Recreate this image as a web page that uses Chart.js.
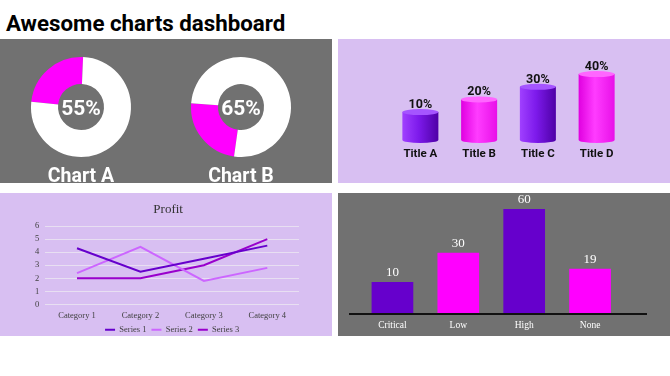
<!DOCTYPE html>
<html><head><meta charset="utf-8">
<script src="https://cdn.jsdelivr.net/npm/chart.js"></script>
<style>
html,body{margin:0;padding:0;background:#fff;width:670px;height:376px;overflow:hidden;}
#title{position:absolute;left:6px;top:10px;font:bold 22.3px Roboto;line-height:26px;color:#000;white-space:nowrap;}
.panel{position:absolute;overflow:hidden;}
.gray{background:#717171;}
.lav{background:#d8bff2;}
canvas{position:absolute;}
</style></head><body>
<div id="title">Awesome charts dashboard</div>
<div class="panel gray" style="left:0;top:39px;width:332px;height:144px">
  <canvas id="dA" width="160" height="144" style="left:1px;top:0"></canvas>
  <canvas id="dB" width="160" height="144" style="left:161px;top:0"></canvas>
</div>
<div class="panel lav" style="left:338px;top:39px;width:332px;height:144px">
  <canvas id="cyl" width="332" height="144" style="left:0;top:0"></canvas>
</div>
<div class="panel lav" style="left:0;top:193px;width:332px;height:143px">
  <canvas id="line" width="332" height="151" style="left:0;top:0"></canvas>
</div>
<div class="panel gray" style="left:338px;top:193px;width:332px;height:143px">
  <canvas id="bar" width="332" height="143" style="left:0;top:0"></canvas>
</div>
<script>
// ---- data ----
const donutNames = ['Chart A', 'Chart B'];
const donutCenterLabels = ['55%', '65%'];
const donutHighlight = [24, 24];   // magenta share as drawn
const donutRest = [76, 76];        // white share as drawn

const cylLabels = ['Title A', 'Title B', 'Title C', 'Title D'];
const cylValues = [10, 20, 30, 40];

const lineCategories = ['Category 1', 'Category 2', 'Category 3', 'Category 4'];
const series1 = [4.3, 2.5, 3.5, 4.5];
const series2 = [2.4, 4.4, 1.8, 2.8];
const series3 = [2.0, 2.0, 3.0, 5.0];
const lineYTicks = [0, 1, 2, 3, 4, 5, 6];

const sevLabels = ['Critical', 'Low', 'High', 'None'];
const sevValues = [10, 30, 60, 19];

// ---- styles ----
const MAG = '#ff00ff', PUR = '#6600cc';
const donutRotations = [-84, 188];

const donutText = {
  id: 'donutText',
  afterDraw(chart, args, opts) {
    const {ctx, chartArea: a} = chart;
    const cx = (a.left + a.right) / 2, cy = (a.top + a.bottom) / 2;
    ctx.save();
    ctx.fillStyle = '#fff';
    ctx.textAlign = 'center';
    ctx.textBaseline = 'alphabetic';
    ctx.font = 'bold 21px Roboto';
    ctx.fillText(opts.center, cx, cy + 8);
    ctx.font = 'bold 19.5px Roboto';
    ctx.fillText(opts.label, cx, a.bottom + 25.2);
    ctx.restore();
  }
};

['dA', 'dB'].forEach((id, i) => {
  new Chart(document.getElementById(id), {
    type: 'doughnut',
    data: {
      labels: ['Highlight', 'Rest'],
      datasets: [{data: [donutHighlight[i], donutRest[i]], backgroundColor: [MAG, '#ffffff'], borderWidth: 0}]
    },
    options: {
      responsive: false, animation: false, events: [],
      rotation: donutRotations[i], cutout: '46%',
      layout: {padding: {left: 30, right: 30, top: 18, bottom: 26}},
      plugins: {legend: {display: false}, tooltip: {enabled: false},
        donutText: {center: donutCenterLabels[i], label: donutNames[i]}}
    },
    plugins: [donutText]
  });
});

// cylinders
const cylStyles = [
  {l: '#a040ff', m: '#7d1aeb', r: '#4e00a6', top: '#a555ff'},
  {l: '#e000e0', m: '#ff3cff', r: '#e810e8', top: '#ff66ff'}
];
const cylPlugin = {
  id: 'cyl',
  afterDatasetsDraw(chart) {
    const ctx = chart.ctx;
    const meta = chart.getDatasetMeta(0);
    meta.data.forEach((bar, i) => {
      const {x, y, base, width} = bar.getProps(['x', 'y', 'base', 'width'], true);
      const st = cylStyles[i % 2];
      const l = x - width / 2, r = x + width / 2, ry = 3, rx = width / 2;
      const g = ctx.createLinearGradient(l, 0, r, 0);
      g.addColorStop(0, st.l); g.addColorStop(0.45, st.m); g.addColorStop(1, st.r);
      ctx.save();
      ctx.fillStyle = g;
      ctx.beginPath();
      ctx.moveTo(l, y);
      ctx.lineTo(l, base);
      ctx.ellipse(x, base, rx, ry, 0, Math.PI, 0, true);
      ctx.lineTo(r, y);
      ctx.closePath();
      ctx.fill();
      ctx.fillStyle = st.top;
      ctx.beginPath();
      ctx.ellipse(x, y, rx, ry, 0, 0, Math.PI * 2);
      ctx.fill();
      ctx.fillStyle = '#111';
      ctx.font = 'bold 12.5px Roboto';
      ctx.textAlign = 'center';
      ctx.textBaseline = 'alphabetic';
      ctx.fillText(cylValues[i] + '%', x, y - 4);
      ctx.restore();
    });
  }
};
new Chart(document.getElementById('cyl'), {
  type: 'bar',
  data: {labels: cylLabels, datasets: [{data: cylValues, base: -12, backgroundColor: 'rgba(0,0,0,0)',
    categoryPercentage: 1, barPercentage: 0.613}]},
  options: {
    responsive: false, animation: false, events: [],
    layout: {padding: {left: 53, right: 44, top: 22.4, bottom: 0}},
    scales: {
      y: {display: false, min: -12, max: 50},
      x: {grid: {display: false, drawTicks: false}, border: {display: false},
        ticks: {color: '#111', font: {family: 'Roboto', size: 11.5, weight: 'bold'}, padding: 7.3},
        afterFit(s) { s.height = 43; }}
    },
    plugins: {legend: {display: false}, tooltip: {enabled: false}}
  },
  plugins: [cylPlugin]
});

// line chart
const serif = 'Liberation Serif';
const centerBlocks = {
  id: 'centerBlocks',
  afterLayout(chart) {
    const a = chart.chartArea;
    const c = (a.left + a.right) / 2;
    const move = (box, center) => {
      if (!box) return;
      const w = box.right - box.left;
      box.left = center - w / 2; box.right = center + w / 2;
    };
    move(chart.legend, c);
    move(chart.titleBlock, c - 4);
  }
};
new Chart(document.getElementById('line'), {
  type: 'line',
  data: {labels: lineCategories, datasets: [
    {label: 'Series 1', data: series1, borderColor: '#6600cc', backgroundColor: '#6600cc'},
    {label: 'Series 2', data: series2, borderColor: '#cc66ff', backgroundColor: '#cc66ff'},
    {label: 'Series 3', data: series3, borderColor: '#9900cc', backgroundColor: '#9900cc'}
  ].map(d => Object.assign(d, {borderWidth: 2, pointRadius: 0, tension: 0, fill: false}))},
  options: {
    responsive: false, animation: false, events: [],
    layout: {padding: {left: 0, right: 33, top: 0, bottom: 0}},
    scales: {
      x: {offset: true, grid: {display: false, drawTicks: false}, border: {display: false},
        ticks: {color: '#404040', font: {family: serif, size: 8.5}, padding: 6, maxRotation: 0},
        afterFit(s) { s.height = 16; }},
      y: {min: lineYTicks[0], max: lineYTicks[lineYTicks.length - 1],
        afterBuildTicks(s) { s.ticks = lineYTicks.map(v => ({value: v})); },
        grid: {color: '#e8dff2', drawTicks: false, lineWidth: 1}, border: {display: false},
        ticks: {color: '#404040', font: {family: serif, size: 8.5}, padding: 6, autoSkip: false},
        afterFit(s) { s.width = 45.3; }}
    },
    plugins: {
      title: {display: true, text: 'Profit', color: '#333', font: {family: serif, size: 13, weight: 'normal'},
        padding: {top: 9.2, bottom: 8.2}},
      legend: {position: 'bottom', labels: {boxWidth: 10, boxHeight: 2, padding: 5, color: '#404040',
        font: {family: serif, size: 8.5},
        generateLabels: c => Chart.defaults.plugins.legend.labels.generateLabels(c).map(l => Object.assign(l, {lineWidth: 0}))}},
      tooltip: {enabled: false}
    }
  },
  plugins: [centerBlocks]
});

// bar chart
const barLabelPlugin = {
  id: 'barLbl',
  afterDatasetsDraw(chart) {
    const {ctx, chartArea: a} = chart;
    ctx.save();
    ctx.strokeStyle = '#111';
    ctx.lineWidth = 2;
    ctx.beginPath();
    ctx.moveTo(a.left - 10.5, a.bottom);
    ctx.lineTo(a.right + 24, a.bottom);
    ctx.stroke();
    ctx.fillStyle = '#fff';
    ctx.font = '13px "Liberation Serif"';
    ctx.textAlign = 'center';
    ctx.textBaseline = 'alphabetic';
    chart.getDatasetMeta(0).data.forEach((bar, i) => {
      ctx.fillText(String(sevValues[i]), bar.x, bar.y - 6);
    });
    ctx.restore();
  }
};
new Chart(document.getElementById('bar'), {
  type: 'bar',
  data: {labels: sevLabels, datasets: [{data: sevValues, base: -12,
    backgroundColor: [PUR, MAG, PUR, MAG], categoryPercentage: 1, barPercentage: 0.633}]},
  options: {
    responsive: false, animation: false, events: [],
    layout: {padding: {left: 21.5, right: 47, top: 16, bottom: 0}},
    scales: {
      y: {display: false, min: -12, max: 60},
      x: {grid: {display: false, drawTicks: false}, border: {display: false},
        ticks: {color: '#fff', font: {family: serif, size: 9.5}, padding: 6},
        afterFit(s) { s.height = 22; }}
    },
    plugins: {legend: {display: false}, tooltip: {enabled: false}}
  },
  plugins: [barLabelPlugin]
});
</script>
</body></html>
